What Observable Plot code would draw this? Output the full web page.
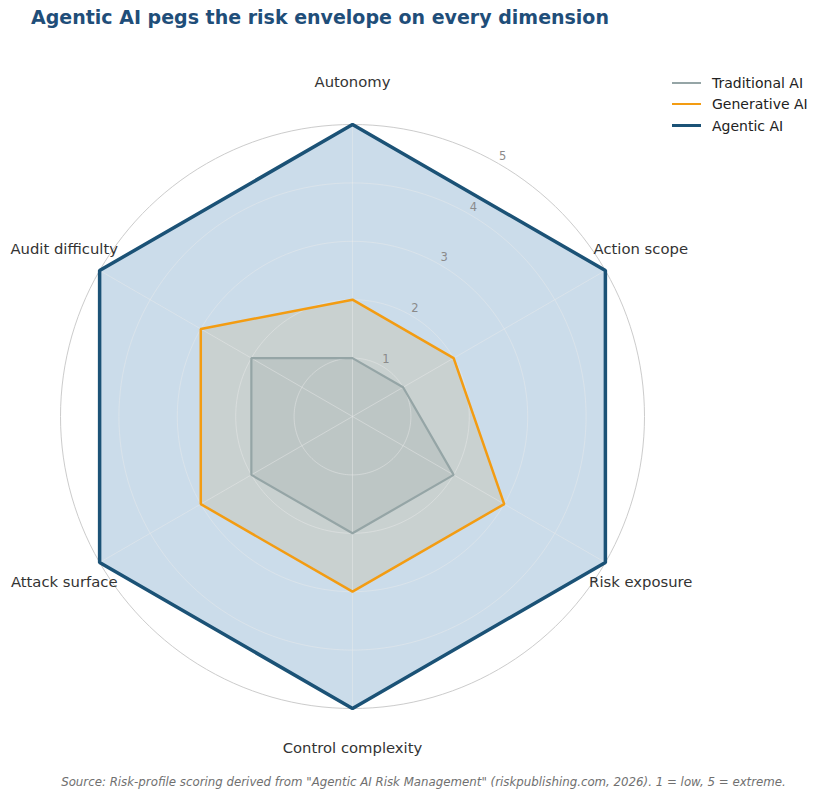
<!DOCTYPE html>
<html>
<head>
<meta charset="utf-8">
<script src="https://cdn.jsdelivr.net/npm/d3@7"></script>
<script src="https://cdn.jsdelivr.net/npm/@observablehq/plot@0.6"></script>
<style>
  body { margin: 0; background: #fff; font-family: "DejaVu Sans", sans-serif; }
  #wrap { position: relative; width: 823px; height: 800px; overflow: hidden; }
  #title { position: absolute; left: 31px; top: 6px; font-size: 19px; font-weight: bold; color: #1f4e79; white-space: nowrap; }
  #chart { position: absolute; left: 0; top: 44px; }
  #caption { position: absolute; left: 0; width: 847px; top: 775px; text-align: center; font-size: 11.8px; font-style: italic; color: #707070; white-space: nowrap; }
  #legend { position: absolute; left: 672px; top: 72px; font-size: 14px; color: #222; }
  .lg { display: flex; align-items: center; height: 21.5px; }
  .sw { width: 29px; margin-right: 11px; }
</style>
</head>
<body>
<div id="wrap">
  <div id="title">Agentic AI pegs the risk envelope on every dimension</div>
  <div id="chart"></div>
  <div id="legend"></div>
  <div id="caption">Source: Risk-profile scoring derived from "Agentic AI Risk Management" (riskpublishing.com, 2026). 1 = low, 5 = extreme.</div>
</div>
<script>
// ---- data ----
const dimensions = ["Autonomy", "Action scope", "Risk exposure", "Control complexity", "Attack surface", "Audit difficulty"];
const seriesNames = ["Traditional AI", "Generative AI", "Agentic AI"];
const traditionalAI = [1, 1, 2, 2, 2, 2];
const generativeAI = [2, 2, 3, 3, 3, 3];
const agenticAI = [5, 5, 5, 5, 5, 5];
const tickValues = [1, 2, 3, 4, 5];

// ---- styles ----
const colors = {"Traditional AI": "#95a5a6", "Generative AI": "#f39c12", "Agentic AI": "#1b5276"};
const fills = {"Traditional AI": "#95a5a6", "Generative AI": "#f39c12", "Agentic AI": "#2f73ab"};
const fillOp = {"Traditional AI": 0.18, "Generative AI": 0.15, "Agentic AI": 0.25};
const widths = {"Traditional AI": 2.2, "Generative AI": 2.5, "Agentic AI": 3.5};

// ---- geometry helpers ----
const n = dimensions.length;
const ang = i => (i * 2 * Math.PI) / n;
const px = (r, a) => r * Math.sin(a);
const py = (r, a) => r * Math.cos(a);

const valuesBySeries = {"Traditional AI": traditionalAI, "Generative AI": generativeAI, "Agentic AI": agenticAI};
const polys = {};
for (const s of seriesNames) {
  polys[s] = valuesBySeries[s].map((v, i) => ({series: s, dim: dimensions[i], x: px(v, ang(i)), y: py(v, ang(i))}));
}

const circles = tickValues.flatMap(v => d3.range(0, 361, 2).map(d => ({v, x: px(v, d * Math.PI / 180), y: py(v, d * Math.PI / 180)})));
const spokes = dimensions.map((d, i) => ({x1: 0, y1: 0, x2: px(5, ang(i)), y2: py(5, ang(i))}));
const labelR = 5.7;
const dimLabels = dimensions.map((d, i) => ({text: d, x: px(labelR, ang(i)), y: py(labelR, ang(i))}));
const tickAng = Math.PI / 6;
const tickLabels = tickValues.map(v => ({text: String(v), x: px(v + 0.14, tickAng), y: py(v + 0.14, tickAng)}));

// layout: 58.4 px per unit, center at (352, 372) inside 823x720 svg
const W = 823, H = 720, k = 58.4, cx = 352, cy = 372;

const marks = [];
for (const s of ["Traditional AI", "Generative AI", "Agentic AI"]) {
  marks.push(Plot.line(polys[s], {x: "x", y: "y", curve: "linear-closed", fill: fills[s], fillOpacity: fillOp[s], stroke: "none"}));
}
marks.push(
  Plot.line(circles.filter(d => d.v < 5), {x: "x", y: "y", z: "v", stroke: "#ececec", strokeOpacity: 0.45, strokeWidth: 1}),
  Plot.link(spokes, {x1: "x1", y1: "y1", x2: "x2", y2: "y2", stroke: "#ececec", strokeOpacity: 0.45, strokeWidth: 1}),
  Plot.line(circles.filter(d => d.v === 5), {x: "x", y: "y", z: "v", stroke: "#cccccc", strokeWidth: 1})
);
for (const s of ["Traditional AI", "Generative AI", "Agentic AI"]) {
  marks.push(Plot.line(polys[s], {x: "x", y: "y", curve: "linear-closed", fill: "none", stroke: colors[s], strokeWidth: widths[s], strokeLinejoin: "miter"}));
}
marks.push(Plot.text(tickLabels, {x: "x", y: "y", text: "text", fill: "#8a8a8a", fontSize: 11.5}));
marks.push(Plot.text(dimLabels, {x: "x", y: "y", text: "text", fill: "#333333", fontSize: 14.8, dy: -1}));

const chart = Plot.plot({
  width: W, height: H,
  margin: 0,
  x: {domain: [-cx / k, (W - cx) / k], axis: null},
  y: {domain: [-(H - cy) / k, cy / k], axis: null},
  style: {fontFamily: "DejaVu Sans, sans-serif", background: "transparent", overflow: "visible"},
  marks
});
document.getElementById("chart").appendChild(chart);

// legend
const lg = document.getElementById("legend");
for (const s of seriesNames) {
  const row = document.createElement("div");
  row.className = "lg";
  row.innerHTML = `<div class="sw" style="border-top:${widths[s]}px solid ${colors[s]}"></div><span>${s}</span>`;
  lg.appendChild(row);
}
</script>
</body>
</html>
